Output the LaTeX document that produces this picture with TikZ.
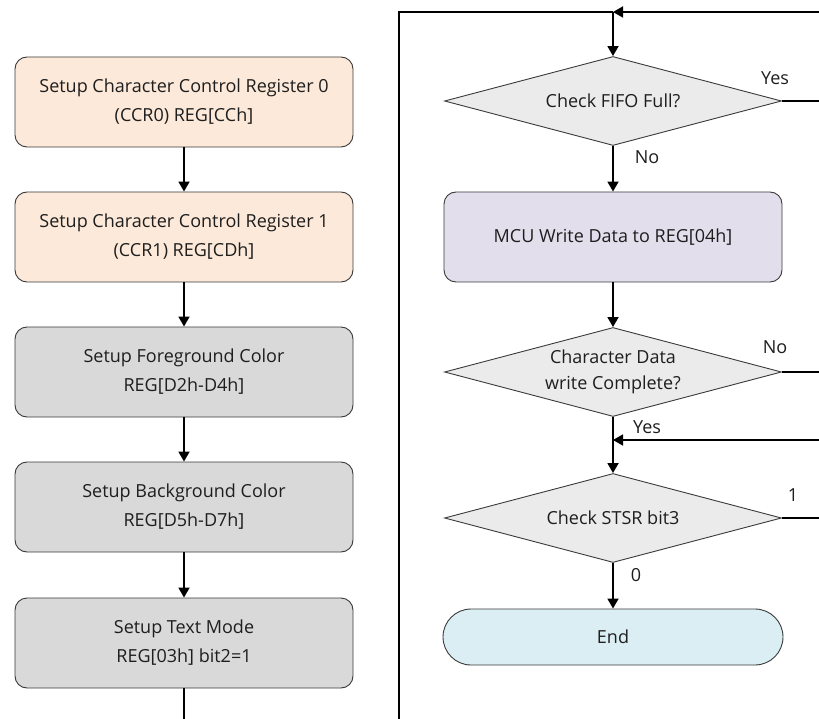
\documentclass[tikz,border=0pt]{standalone}
\usepackage{fontspec}
\setmainfont{Open Sans}
\usetikzlibrary{shapes.geometric,arrows.meta}
\definecolor{peach}{HTML}{FCE9D9}
\definecolor{boxgray}{HTML}{D9D9D9}
\definecolor{lav}{HTML}{E3DEEC}
\definecolor{dgray}{HTML}{EBEBEB}
\definecolor{endblue}{HTML}{DAEEF4}
\definecolor{edge}{HTML}{3A3A3A}
\definecolor{txt}{HTML}{1E1E1E}
\tikzset{
  box/.style={draw=edge, line width=0.9pt, rounded corners=12pt, minimum width=338pt, minimum height=90pt, align=center, inner sep=0pt, text=txt, font=\fontsize{18}{29}\selectfont},
  dia/.style={draw=edge, line width=0.9pt, diamond, aspect=3.8, minimum width=337pt, minimum height=89pt, align=center, inner sep=0pt, fill=dgray, text=txt, font=\fontsize{18}{26}\selectfont},
  conn/.style={line width=1.8pt, black},
  arr/.style={conn, -{Triangle[length=10pt,width=11pt]}},
  lbl/.style={font=\fontsize{18}{20}\selectfont, inner sep=0pt, text=txt}
}
\begin{document}
\begin{tikzpicture}[x=1pt,y=-1pt]
\useasboundingbox (0,0) rectangle (819,719);
% left column
\node[box, fill=peach] (b1) at (184,102) {Setup Character Control Register 0\\(CCR0) REG[CCh]};
\node[box, fill=peach] (b2) at (184,237) {Setup Character Control Register 1\\(CCR1) REG[CDh]};
\node[box, fill=boxgray] (b3) at (184,372) {Setup Foreground Color\\REG[D2h-D4h]};
\node[box, fill=boxgray] (b4) at (184,507) {Setup Background Color\\REG[D5h-D7h]};
\node[box, fill=boxgray] (b5) at (184,643) {Setup Text Mode\\REG[03h] bit2=1};
% right column
\node[dia] (d1) at (613,101) {Check FIFO Full?};
\node[box, fill=lav] (mcu) at (613,237) {MCU Write Data to REG[04h]};
\node[dia] (d2) at (613,372) {Character Data\\write Complete?};
\node[dia] (d3) at (613,518) {Check STSR bit3};
\node[box, fill=endblue, rounded corners=28pt, minimum width=340pt, minimum height=56pt] (end) at (613,637) {End};
% coordinates
\coordinate (bl) at (184,719);
\coordinate (lb) at (399,719);
\coordinate (lt) at (399,12);
\coordinate (j1) at (613,12);
\coordinate (tr) at (819,12);
\coordinate (r1) at (819,101);
\coordinate (r2) at (819,372);
\coordinate (j2) at (613,440);
\coordinate (r3) at (819,440);
\coordinate (r4) at (819,518);
% connectors
\draw[arr] (b1) -- (b2);
\draw[arr] (b2) -- (b3);
\draw[arr] (b3) -- (b4);
\draw[arr] (b4) -- (b5);
\draw[conn] (b5.south) -- (bl);
\draw[conn] (lb) -- (lt) -- (j1);
\draw[arr] (tr) -- (j1);
\draw[arr] (j1) -- (d1.north);
\draw[conn] (d1.east) -- (r1);
\draw[arr] (d1.south) -- (mcu.north);
\draw[arr] (mcu.south) -- (d2.north);
\draw[conn] (d2.east) -- (r2);
\draw[conn] (d2.south) -- (j2);
\draw[arr] (r3) -- (j2);
\draw[arr] (j2) -- (d3.north);
\draw[conn] (d3.east) -- (r4);
\draw[arr] (d3.south) -- (end.north);
% labels
\node[lbl] (l1) at (775,78) {Yes};
\node[lbl] (l2) at (647,157) {No};
\node[lbl] (l3) at (775,347) {No};
\node[lbl] (l4) at (647,427) {Yes};
\node[lbl] (l5) at (793,495) {1};
\node[lbl] (l6) at (636,575) {0};
\end{tikzpicture}
\end{document}
